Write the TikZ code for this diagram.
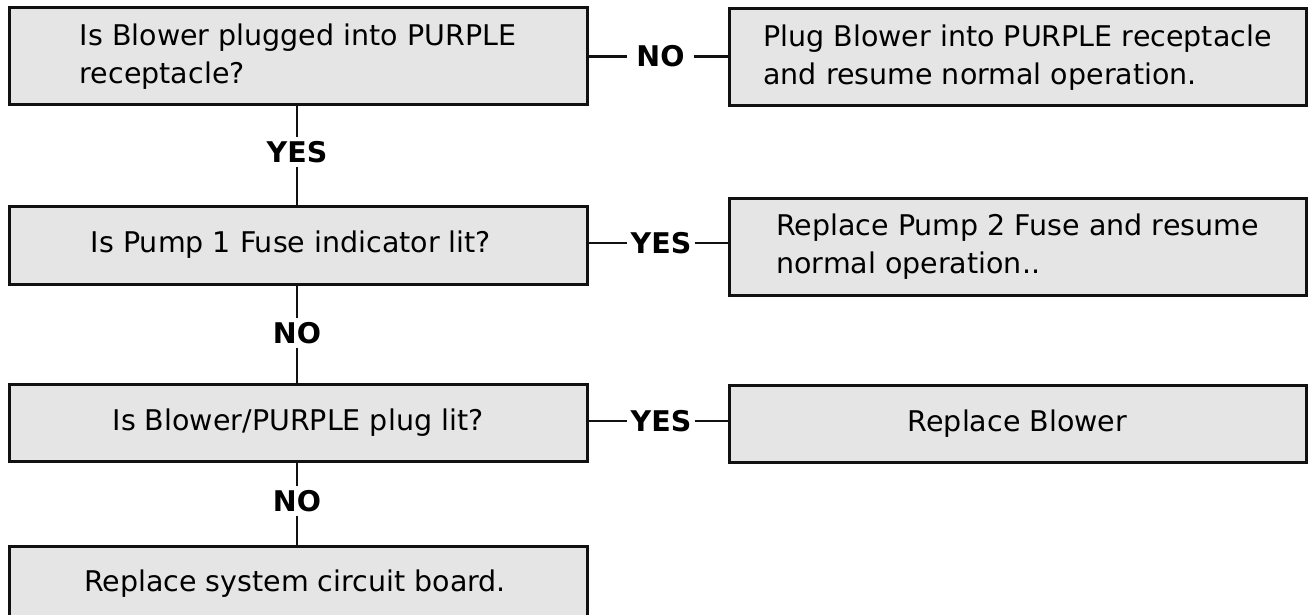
\documentclass[tikz,border=0pt]{standalone}
\usepackage{fontspec}
\setmainfont{DejaVu Sans}
\definecolor{boxgray}{HTML}{E5E5E5}
\definecolor{edge}{HTML}{111111}
\begin{document}
\begin{tikzpicture}[x=1pt,y=-1pt,
  box/.style={draw=edge, line width=3pt, fill=boxgray, minimum width=578pt,
    inner sep=0pt, align=left, font=\fontsize{28.5}{38}\selectfont},
  lbl/.style={fill=white, inner xsep=3pt, inner ysep=1pt, font=\fontsize{28.5}{30}\selectfont\bfseries},
  conn/.style={draw=edge, line width=2.5pt}]
\useasboundingbox (0,0) rectangle (1308,615);
\node[box, minimum height=97pt] (q1) at (298,56.5) {Is Blower plugged into PURPLE\\receptacle?};
\node[box, minimum height=97pt, minimum width=577pt] (a1) at (1017.5,57.5) {Plug Blower into PURPLE receptacle\\and resume normal operation.};
\node[box, minimum height=78pt] (q2) at (298,245) {Is Pump 1 Fuse indicator lit?\hspace*{14pt}};
\node[box, minimum height=97pt, minimum width=577pt] (a2) at (1017.5,246.5) {Replace Pump 2 Fuse and resume\\normal operation..};
\node[box, minimum height=77pt] (q3) at (298,422.5) {Is Blower/PURPLE plug lit?};
\node[box, minimum height=76pt] (q4) at (298,584) {Replace system circuit board.\hspace*{6pt}};
\node[box, minimum height=77pt, minimum width=577pt] (a3) at (1017.5,423.5) {Replace Blower};

\node[lbl, inner xsep=9pt] (n1) at (660.5,56.5) {NO};
\node[lbl, inner xsep=3pt] (y2) at (661,243) {YES};
\node[lbl, inner xsep=3pt] (y3) at (661,421) {YES};
\node[lbl, inner ysep=4pt] (y1) at (297,152) {YES};
\node[lbl, inner ysep=4pt] (n2) at (297,333) {NO};
\node[lbl, inner ysep=4pt] (n3) at (297,501) {NO};

\draw[conn] (q1.east) -- (n1.west);
\draw[conn] (n1.east) -- (a1.west |- n1.east);
\draw[conn] (q2.east |- y2.west) -- (y2.west);
\draw[conn] (y2.east) -- (a2.west |- y2.east);
\draw[conn] (q3.east |- y3.west) -- (y3.west);
\draw[conn] (y3.east) -- (a3.west |- y3.east);
\draw[conn] (q1.south -| y1.north) -- (y1.north);
\draw[conn] (y1.south) -- (q2.north -| y1.south);
\draw[conn] (q2.south -| n2.north) -- (n2.north);
\draw[conn] (n2.south) -- (q3.north -| n2.south);
\draw[conn] (q3.south -| n3.north) -- (n3.north);
\draw[conn] (n3.south) -- (q4.north -| n3.south);
\end{tikzpicture}
\end{document}
